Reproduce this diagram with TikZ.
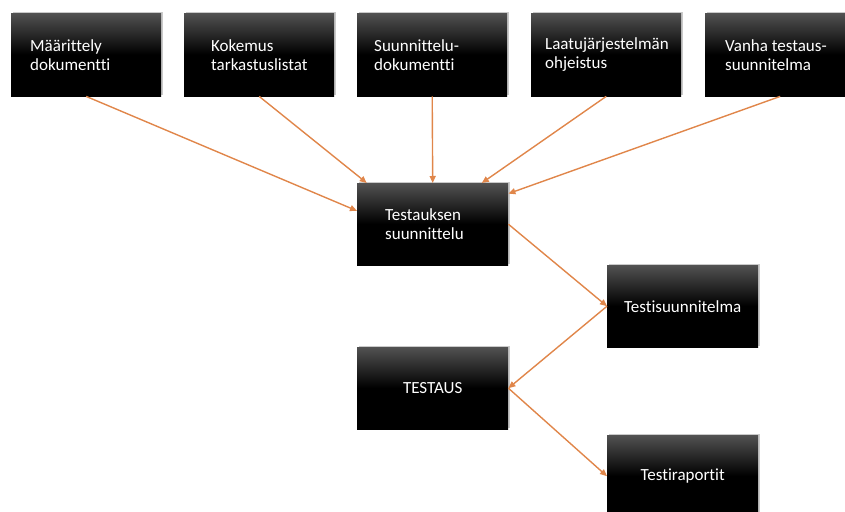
\documentclass[tikz,border=0pt]{standalone}
\usepackage{fontspec}
\setmainfont{Carlito}[Ligatures=NoCommon]
\usetikzlibrary{arrows.meta,shadows}
\definecolor{flowc}{RGB}{224,134,74}

\tikzset{
  box/.style={rectangle,anchor=north west,minimum width=150pt,minimum height=83pt,
    inner sep=0pt,top color=black!68,bottom color=black,middle color=black,
    draw=none,text=white,
    drop shadow={shadow xshift=1.6pt,shadow yshift=1.6pt,opacity=0.35,fill=black!60}},
  lbl/.style={anchor=west,align=left,text=white,inner sep=0pt},
  flow/.style={->,draw=flowc,line width=1.4pt}
}

\begin{document}
\begin{tikzpicture}[x=1pt,y=-1pt,>={Triangle[length=7pt,width=6pt]},font=\fontsize{17}{19}\selectfont]
\useasboundingbox (0,0) rectangle (845,511);
% inputs
\node[box] (mdoc) at (11,13) {};
\node[box] (kok) at (184,13) {};
\node[box] (sdoc) at (357,13) {};
\node[box] (laatu) at (531,13) {};
\node[box] (vanha) at (705,13) {};
\node[lbl] (mdoc-t) at ([xshift=19pt]mdoc.west) {Määrittely\\dokumentti};
\node[lbl] (kok-t) at ([xshift=27pt]kok.west) {Kokemus\\tarkastuslistat};
\node[lbl] (sdoc-t) at ([xshift=17pt]sdoc.west) {Suunnittelu-\\dokumentti};
\node[lbl] (laatu-t) at ([xshift=14pt]laatu.west) {Laatujärjestelmän\\ohjeistus};
\node[lbl] (vanha-t) at ([xshift=20pt]vanha.west) {Vanha testaus-\\suunnitelma};
% process
\node[box,minimum width=151pt,minimum height=82pt] (tsuun) at (357,183) {};
\node[lbl] (tsuun-t) at ([xshift=28pt]tsuun.west) {Testauksen\\suunnittelu};
\node[box,minimum width=151pt,minimum height=82pt] (tsuunma) at (607,265) {Testisuunnitelma};
\node[box,minimum width=151pt,minimum height=82pt] (testaus) at (357,347) {TESTAUS};
\node[box,minimum width=151pt,minimum height=82pt] (trap) at (607,435) {\raisebox{2pt}{Testiraportit}};
% connectors
\draw[flow] (mdoc.south) -- (tsuun.170);
\draw[flow] (kok.south) -- (tsuun.148);
\draw[flow] (sdoc.south) -- (tsuun.north);
\draw[flow] (laatu.south) -- (tsuun.40);
\draw[flow] (vanha.south) -- (tsuun.22);
\draw[flow] (tsuun.east) -- (tsuunma.west);
\draw[flow] (tsuunma.west) -- (testaus.east);
\draw[flow] (testaus.east) -- (trap.west);
\end{tikzpicture}
\end{document}
